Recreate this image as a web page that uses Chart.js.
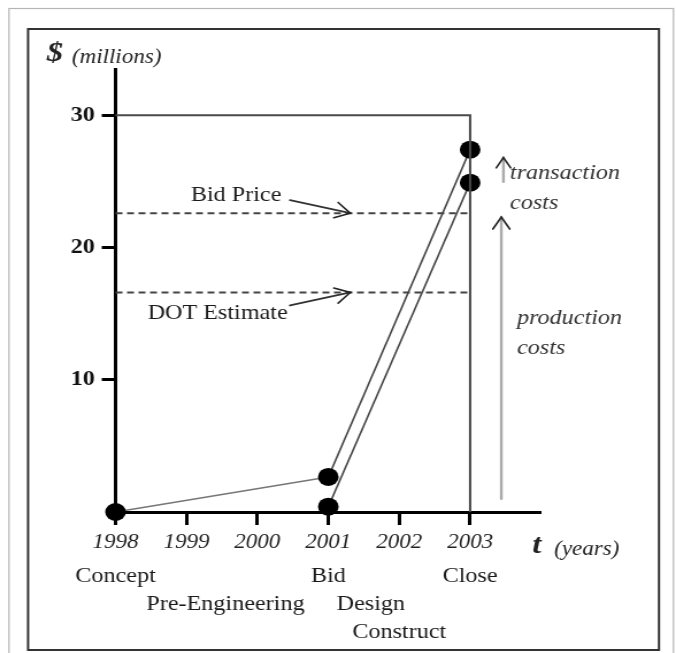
<!DOCTYPE html>
<html>
<head>
<meta charset="utf-8">
<script src="https://cdn.jsdelivr.net/npm/chart.js@4.4.1/dist/chart.umd.min.js"></script>
<style>
  html, body { margin: 0; padding: 0; background: #fff; overflow: hidden; }
  #wrap { position: absolute; left: 0; top: 0; width: 588px; height: 653px;
          transform: scaleX(1.14966); transform-origin: 0 0; }
</style>
</head>
<body>
<div id="wrap"><canvas id="c"></canvas></div>
<script>
// ---------------- data ----------------
const upperYears = [1998, 2001, 2003];
const upperCost = [0, 2.65, 27.4];        // total cost incl. transaction costs
const lowerYears = [2001, 2003];
const lowerCost = [0.4, 24.9];            // production cost path
const ceilingYears = [1998, 2003, 2003];
const ceilingValues = [30, 30, 0];
const estimateYears = [1998, 2003];
const bidPrice = 22.6;
const dotEstimate = 16.6;
const xTickValues = [1998, 1999, 2000, 2001, 2002, 2003];
const xTickLabels = ['1998', '1999', '2000', '2001', '2002', '2003'];
const yTickValues = [10, 20, 30];
const yTickLabels = ['10', '20', '30'];
const phaseLabels = ['Concept', 'Pre-Engineering', 'Bid', 'Design', 'Construct', 'Close'];
const phaseYears = [1998, 1999.55, 2001, 2001.6, 2002, 2003];

// ---------------- layout ----------------
const phaseRowY = [576, 604, 576, 604, 632, 576];
const SERIF = '"Liberation Serif", "Times New Roman", serif';

const pts = (xs, ys) => xs.map((x, i) => ({ x: x, y: ys[i] }));

function arrow(ctx, x1, y1, x2, y2, shaft, head, headLen, lw) {
  ctx.save();
  ctx.lineCap = 'round';
  ctx.strokeStyle = shaft; ctx.lineWidth = lw;
  ctx.beginPath(); ctx.moveTo(x1, y1); ctx.lineTo(x2, y2); ctx.stroke();
  const a = Math.atan2(y2 - y1, x2 - x1);
  const spread = 0.55;
  ctx.strokeStyle = head; ctx.lineWidth = 1.6;
  ctx.beginPath();
  ctx.moveTo(x2 - headLen * Math.cos(a - spread), y2 - headLen * Math.sin(a - spread));
  ctx.lineTo(x2, y2);
  ctx.lineTo(x2 - headLen * Math.cos(a + spread), y2 - headLen * Math.sin(a + spread));
  ctx.stroke();
  ctx.restore();
}

const framePlugin = {
  id: 'frame',
  beforeDraw(chart) {
    const ctx = chart.ctx;
    ctx.save();
    ctx.fillStyle = '#fff';
    ctx.fillRect(0, 0, chart.width, chart.height);
    ctx.strokeStyle = '#b5b5b5'; ctx.lineWidth = 1.2;
    ctx.strokeRect(7.8, 8.5, 578, 660);
    ctx.strokeStyle = '#333'; ctx.lineWidth = 2;
    ctx.strokeRect(24.4, 29, 548.8, 621);
    ctx.restore();
  }
};

const notesPlugin = {
  id: 'notes',
  afterDraw(chart) {
    const ctx = chart.ctx, xs = chart.scales.x, ys = chart.scales.y;
    const X = v => xs.getPixelForValue(v), Y = v => ys.getPixelForValue(v);
    ctx.save();
    ctx.textBaseline = 'middle';
    // axis titles
    ctx.fillStyle = '#222';
    ctx.textAlign = 'center';
    ctx.font = 'italic bold 28px ' + SERIF;
    ctx.fillText('$', 47.8, 54);
    ctx.textAlign = 'left';
    ctx.font = 'italic 20px ' + SERIF;
    ctx.fillText('(millions)', 62.6, 58);
    ctx.textAlign = 'center';
    ctx.font = 'italic bold 28px ' + SERIF;
    ctx.fillText('t', 467, 546);
    ctx.textAlign = 'left';
    ctx.font = 'italic 20px ' + SERIF;
    ctx.fillText('(years)', 482, 550);

    // phase labels
    ctx.textAlign = 'center';
    ctx.font = '21px ' + SERIF;
    ctx.fillStyle = '#1a1a1a';
    phaseLabels.forEach((t, i) => ctx.fillText(t, X(phaseYears[i]), phaseRowY[i]));

    // bid price / DOT estimate notes
    ctx.font = '21px ' + SERIF;
    ctx.fillText('Bid Price', X(1999.7), Y(bidPrice) - 18);
    arrow(ctx, X(2000.46), Y(bidPrice) - 13, X(2001.31), Y(bidPrice), '#333', '#222', 15, 1.8);
    ctx.fillText('DOT Estimate', X(1999.44), Y(dotEstimate) + 21);
    arrow(ctx, X(2000.46), Y(dotEstimate) + 13, X(2001.31), Y(dotEstimate), '#333', '#222', 15, 1.8);

    // cost arrows
    arrow(ctx, X(2003.47), Y(lowerCost[1]) - 1, X(2003.47), Y(26.8), '#aaa', '#222', 12, 2.4);
    arrow(ctx, X(2003.44), Y(1.0), X(2003.44), Y(22.3), '#aaa', '#222', 14, 2.4);
    ctx.textAlign = 'left';
    ctx.font = 'italic 21px ' + SERIF;
    ctx.fillStyle = '#333';
    ctx.fillText('transaction', 443.6, 173);
    ctx.fillText('costs', 443.6, 203);
    ctx.fillText('production', 449.7, 318);
    ctx.fillText('costs', 449.7, 348);
    ctx.restore();
  }
};

new Chart(document.getElementById('c'), {
  type: 'line',
  data: {
    datasets: [
      { data: pts(ceilingYears, ceilingValues), borderColor: '#4a4a4a', borderWidth: 2,
        pointRadius: 0, tension: 0, clip: false },
      { data: pts(estimateYears, [bidPrice, bidPrice]), borderColor: '#444', borderWidth: 2,
        borderDash: [6, 4], pointRadius: 0, clip: false },
      { data: pts(estimateYears, [dotEstimate, dotEstimate]), borderColor: '#444', borderWidth: 2,
        borderDash: [6, 4], pointRadius: 0, clip: false },
      { data: pts(upperYears, upperCost), borderColor: '#444', borderWidth: 1.6,
        segment: { borderColor: c => c.p0DataIndex === 0 ? '#777' : '#444' },
        pointRadius: 9, pointBackgroundColor: '#000', pointBorderWidth: 0, clip: false },
      { data: pts(lowerYears, lowerCost), borderColor: '#444', borderWidth: 1.6,
        pointRadius: 9, pointBackgroundColor: '#000', pointBorderWidth: 0, clip: false }
    ]
  },
  options: {
    responsive: true,
    maintainAspectRatio: false,
    animation: false,
    events: [],
    layout: { padding: { left: 60.5, right: 117.4, top: 69, bottom: 101 } },
    plugins: { legend: { display: false }, tooltip: { enabled: false }, title: { display: false } },
    scales: {
      x: {
        type: 'linear', min: 1998, max: 2004,
        afterBuildTicks: s => { s.ticks = xTickValues.map(v => ({ value: v })); },
        afterFit: s => { s.height = 40; },
        border: { display: true, color: '#000', width: 3 },
        grid: { drawOnChartArea: false, drawTicks: true, tickLength: 13, tickWidth: 3, tickColor: '#000' },
        ticks: { callback: (v, i) => xTickLabels[i], padding: 6, color: '#222', maxRotation: 0,
                 font: { family: SERIF, style: 'italic', size: 20 } }
      },
      y: {
        type: 'linear', min: 0, max: 33.5,
        afterBuildTicks: s => { s.ticks = yTickValues.map(v => ({ value: v })); },
        afterFit: s => { s.width = 40; },
        border: { display: true, color: '#000', width: 3 },
        grid: { drawOnChartArea: false, drawTicks: true, tickLength: 12, tickWidth: 3, tickColor: '#000' },
        ticks: { callback: (v, i) => yTickLabels[i], padding: 6, color: '#111',
                 font: { family: SERIF, weight: 'bold', size: 21 } }
      }
    }
  },
  plugins: [framePlugin, notesPlugin]
});
</script>
</body>
</html>
